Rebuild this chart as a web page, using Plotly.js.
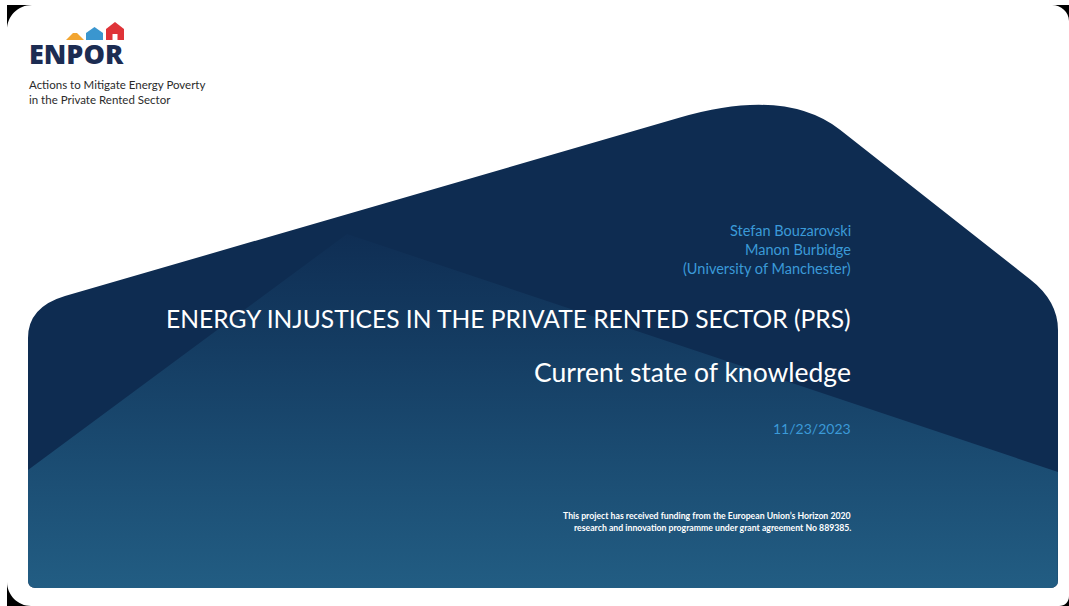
<!DOCTYPE html>
<html>
<head>
<meta charset="utf-8">
<script src="https://cdn.plot.ly/plotly-3.0.1.min.js"></script>
<style>
html,body{margin:0;padding:0;background:#fff;overflow:hidden;}
#chart{width:1069px;height:606px;}
</style>
</head>
<body>
<div id="chart"></div>
<script>
// ---- Slide content (text) ----
const logoWord = "ENPOR";
const logoTagline = ["Actions to Mitigate Energy Poverty", "in the Private Rented Sector"];
const authors = ["Stefan Bouzarovski", "Manon Burbidge", "(University of Manchester)"];
const mainTitle = "ENERGY INJUSTICES IN THE PRIVATE RENTED SECTOR (PRS)";
const subTitle = "Current state of knowledge";
const dateText = "11/23/2023";
const fundingLines = [
  "This project has received funding from the European Union\u2019s Horizon 2020",
  "research and innovation programme under grant agreement No 889385."
];

// ---- helpers for geometry ----
function quadPts(p0, c, p1, n) {
  const out = [];
  for (let i = 0; i <= n; i++) {
    const t = i / n, a = (1 - t) * (1 - t), b = 2 * t * (1 - t), d = t * t;
    out.push([a * p0[0] + b * c[0] + d * p1[0], a * p0[1] + b * c[1] + d * p1[1]]);
  }
  return out;
}

// lighter lower region (gradient)
let lightPts = [[28, 470], [347, 234], [1058, 472], [1058, 580]];
lightPts = lightPts.concat(quadPts([1058, 580], [1058, 588], [1050, 588], 6));
lightPts.push([36, 588]);
lightPts = lightPts.concat(quadPts([36, 588], [28, 588], [28, 580], 6));
lightPts.push([28, 470]);

const traces = [{
  type: 'scatter',
  mode: 'lines',
  x: lightPts.map(p => p[0]),
  y: lightPts.map(p => p[1]),
  fill: 'toself',
  line: {width: 0, color: 'rgba(0,0,0,0)'},
  fillgradient: {
    type: 'vertical',
    start: 234,
    stop: 588,
    colorscale: [[0, '#0f2e54'], [0.25, '#13395f'], [0.6, '#1a4a70'], [1, '#225d83']]
  },
  hoverinfo: 'skip',
  showlegend: false
}];

const darkPath = "M 28,338 Q 28,307 65,296 L 680,117.6 Q 785,87 840,129.8 L 1030,279.2 " +
  "Q 1058,301 1058,330 L 1058,580 Q 1058,588 1050,588 L 36,588 Q 28,588 28,580 Z";

const shapes = [
  {type: 'path', path: darkPath, xref: 'x', yref: 'y', fillcolor: '#0e2c51', line: {width: 0}, layer: 'below'},
  // logo houses
  {type: 'path', path: "M 66,40 L 73,33 L 77,33 L 84,40 Z", xref: 'x', yref: 'y', fillcolor: '#f2a531', line: {width: 0}},
  {type: 'path', path: "M 86,40 L 86,33 L 94.5,27 L 103,33 L 103,40 Z", xref: 'x', yref: 'y', fillcolor: '#3a96cf', line: {width: 0}},
  {type: 'path', path: "M 106,40 L 106,29 L 115,22 L 124,29 L 124,40 Z", xref: 'x', yref: 'y', fillcolor: '#df3338', line: {width: 0}},
  {type: 'path', path: "M 112.5,40 L 112.5,34 L 117.5,34 L 117.5,40 Z", xref: 'x', yref: 'y', fillcolor: '#ffffff', line: {width: 0}},
  // black corner crescents (photo frame)
  {type: 'path', path: "M 7,30 C 7,16 18,5 32,5 L 7,5 Z", xref: 'x', yref: 'y', fillcolor: '#000000', line: {width: 0}},
  {type: 'path', path: "M 1052,5 C 1061,5 1069,12 1069,21 L 1069,5 Z", xref: 'x', yref: 'y', fillcolor: '#000000', line: {width: 0}},
  {type: 'path', path: "M 7,582 C 7,595 18,606 31,606 L 7,606 Z", xref: 'x', yref: 'y', fillcolor: '#000000', line: {width: 0}},
  {type: 'path', path: "M 1069,596 C 1069,602 1065,606 1059,606 L 1069,606 Z", xref: 'x', yref: 'y', fillcolor: '#000000', line: {width: 0}}
];

const fontBase = 'Lato, "Open Sans", sans-serif';
function ann(text, x, y, size, color, anchor, weight) {
  return {text: text, x: x, y: y, xref: 'x', yref: 'y', showarrow: false,
    xanchor: anchor || 'right', yanchor: 'middle',
    font: {family: fontBase, size: size, color: color, weight: weight || 400}};
}

const annotations = [
  {text: logoWord, x: 27, y: 53, xref: 'x', yref: 'y', showarrow: false, xanchor: 'left', yanchor: 'middle',
   font: {family: '"Open Sans", sans-serif', size: 27, color: '#1c2c52', weight: 800}},
  ann(logoTagline[0], 27, 84, 11.5, '#2b2b2b', 'left'),
  ann(logoTagline[1], 27, 99, 11.5, '#2b2b2b', 'left'),
  ann(authors[0], 853, 230, 14.5, '#3b9ad8'),
  ann(authors[1], 853, 249, 14.5, '#3b9ad8'),
  ann(authors[2], 853, 268, 14.5, '#3b9ad8'),
  ann(mainTitle, 853, 318, 24.6, '#ffffff'),
  ann(subTitle, 853, 372, 26.5, '#ffffff'),
  ann(dateText, 853, 428, 14, '#3b9ad8'),
  ann(fundingLines[0], 853, 515, 8.7, '#ffffff', 'right', 700),
  ann(fundingLines[1], 853, 527, 8.7, '#ffffff', 'right', 700)
];

const layout = {
  width: 1069, height: 606, autosize: false,
  margin: {l: 0, r: 0, t: 0, b: 0, pad: 0},
  paper_bgcolor: '#ffffff', plot_bgcolor: '#ffffff',
  xaxis: {range: [0, 1069], visible: false, fixedrange: true},
  yaxis: {range: [606, 0], visible: false, fixedrange: true},
  shapes: shapes,
  annotations: annotations,
  showlegend: false
};

Plotly.newPlot('chart', traces, layout, {staticPlot: true, displayModeBar: false});
</script>
</body>
</html>
